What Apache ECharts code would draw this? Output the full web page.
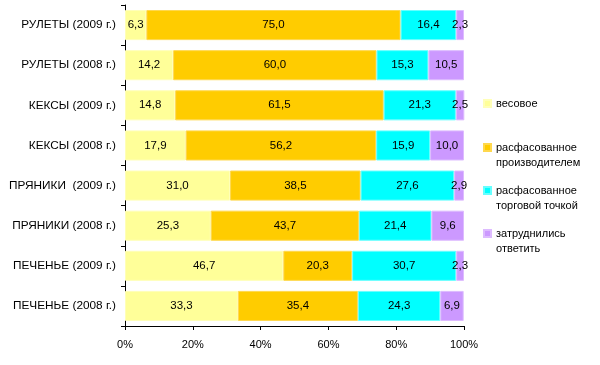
<!DOCTYPE html>
<html><head><meta charset="utf-8">
<script src="https://cdn.jsdelivr.net/npm/echarts@6/dist/echarts.min.js"></script>
<style>html,body{margin:0;padding:0;background:#fff}#c{width:600px;height:365px}</style>
</head><body><div id="c"></div>
<script>
const categories = ['РУЛЕТЫ (2009 г.)','РУЛЕТЫ (2008 г.)','КЕКСЫ (2009 г.)','КЕКСЫ (2008 г.)','ПРЯНИКИ  (2009 г.)','ПРЯНИКИ (2008 г.)','ПЕЧЕНЬЕ (2009 г.)','ПЕЧЕНЬЕ (2008 г.)'];
const seriesNames = ['весовое','расфасованное\nпроизводителем','расфасованное\nторговой точкой','затруднились\nответить'];
const vesovoe = [6.3,14.2,14.8,17.9,31.0,25.3,46.7,33.3];
const proizv = [75.0,60.0,61.5,56.2,38.5,43.7,20.3,35.4];
const torg = [16.4,15.3,21.3,15.9,27.6,21.4,30.7,24.3];
const zatr = [2.3,10.5,2.5,10.0,2.9,9.6,2.3,6.9];
const xTicks = [0,20,40,60,80,100];

const colors = ['#FFFF99','#FFCC00','#00FFFF','#CC99FF'];
const borders = ['#FFFFB8','#FFD84D','#66FFFF','#DDBBFF'];
const values = [vesovoe, proizv, torg, zatr];
const font = 'Liberation Sans, Arial, sans-serif';
const topIcon = 'path://M0,0h7v7h-7zM0,22';

const chart = echarts.init(document.getElementById('c'), null, {renderer:'canvas'});
chart.setOption({
  animation:false,
  backgroundColor:'#fff',
  textStyle:{fontFamily:font},
  grid:{left:125,right:136,top:5,bottom:39,containLabel:false},
  legend:[{
    data:[seriesNames[0]], orient:'vertical', left:483, top:96, padding:0,
    itemWidth:7,itemHeight:7, icon:'rect',
    textStyle:{fontSize:11,color:'#000',fontFamily:font,lineHeight:15}
  },{
    data:seriesNames.slice(1), orient:'vertical', left:483, top:140, padding:0,
    itemWidth:7,itemHeight:22, icon:topIcon, itemGap:13,
    textStyle:{fontSize:11,color:'#000',fontFamily:font,lineHeight:15}
  }],
  xAxis:{type:'value',min:0,max:100,interval:20,
    axisLine:{show:true,lineStyle:{color:'#000',width:1}},
    axisTick:{show:true,length:4,lineStyle:{color:'#000'}},
    splitLine:{show:false},
    axisLabel:{formatter:v=>xTicks.includes(v)?v+'%':'',fontSize:11,color:'#000',margin:13,fontFamily:font}
  },
  yAxis:{type:'category',data:categories,inverse:true,
    axisLine:{show:true,lineStyle:{color:'#000',width:1}},
    axisTick:{show:true,length:4,lineStyle:{color:'#000'}},
    axisLabel:{fontSize:11.8,color:'#000',margin:9,fontFamily:font}
  },
  series: seriesNames.map((n,i)=>({
    name:n,type:'bar',stack:'s',data:values[i],barCategoryGap:'25%',
    itemStyle:{color:colors[i],borderColor:borders[i],borderWidth:1},
    label:{show:true,position:'inside',formatter:p=>p.value.toFixed(1).replace('.',','),fontSize:11.5,color:'#000',fontFamily:font}
  }))
});
</script></body></html>
